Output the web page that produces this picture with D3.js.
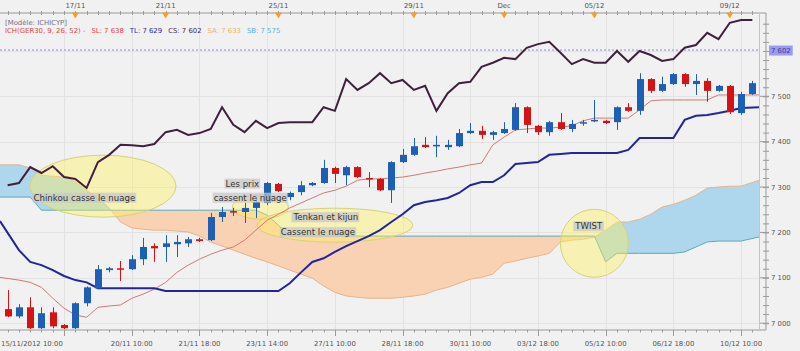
<!DOCTYPE html>
<html>
<head>
<meta charset="utf-8">
<script src="https://cdn.jsdelivr.net/npm/d3@7"></script>
<style>
body { margin: 0; background: #f1f1f1; }
svg text { font-family: "DejaVu Sans", Verdana, sans-serif; }
</style>
</head>
<body>
<div id="chart"></div>
<script>
// candles (DAX 4h)
var open  = [7031,7015,7035,6989,7024,6996,6989,7044,7077,7117,7121,7119,7141,7170,7168,7174,7176,7185,7183,7234,7247,7245,7254,7265,7307,7278,7289,7304,7309,7342,7326,7344,7320,7318,7293,7355,7371,7393,7390,7388,7390,7419,7424,7415,7419,7426,7476,7435,7421,7443,7428,7441,7446,7446,7443,7476,7468,7538,7512,7527,7549,7527,7534,7512,7523,7463,7505];
var high  = [7073,7042,7057,7035,7035,6998,7046,7081,7128,7124,7137,7150,7188,7176,7194,7194,7190,7188,7243,7256,7254,7265,7276,7311,7309,7290,7313,7311,7360,7345,7347,7346,7333,7320,7357,7384,7408,7410,7413,7404,7428,7441,7435,7424,7443,7485,7478,7437,7446,7463,7448,7448,7492,7448,7478,7485,7551,7540,7543,7551,7551,7549,7540,7525,7525,7510,7534];
var low   = [7013,7011,6987,6987,6989,6987,6987,7037,7075,7112,7093,7117,7128,7135,7135,7146,7168,7179,7181,7223,7236,7221,7232,7260,7289,7271,7282,7302,7307,7309,7304,7320,7300,7291,7265,7353,7369,7386,7366,7382,7388,7417,7406,7404,7417,7424,7419,7415,7413,7426,7421,7435,7443,7439,7426,7466,7459,7507,7510,7525,7521,7503,7488,7510,7461,7459,7503];
var close = [7015,7035,6989,7022,6993,6989,7044,7079,7119,7121,7119,7141,7168,7165,7176,7179,7185,7181,7234,7245,7245,7254,7267,7309,7291,7287,7304,7309,7342,7329,7344,7322,7318,7293,7355,7371,7390,7388,7393,7393,7419,7424,7415,7421,7428,7476,7437,7421,7443,7428,7439,7443,7448,7441,7476,7468,7538,7512,7527,7549,7527,7534,7512,7523,7465,7505,7529];

// ichimoku lines
var tenkan  = [7101,7095,7090,7079,7055,7033,7018,7013,7035,7038,7040,7055,7064,7075,7090,7112,7128,7141,7152,7161,7168,7183,7205,7227,7240,7254,7265,7276,7287,7293,7302,7315,7318,7318,7320,7322,7326,7331,7335,7340,7344,7349,7353,7393,7410,7426,7428,7430,7430,7432,7435,7446,7452,7452,7452,7452,7470,7490,7492,7492,7492,7492,7492,7503,7503,7503,7503];
var kijun   = [7225,7161,7135,7128,7117,7104,7095,7090,7077,7077,7077,7077,7077,7077,7071,7071,7071,7071,7071,7071,7071,7071,7071,7071,7071,7088,7112,7135,7143,7157,7170,7181,7192,7205,7223,7240,7260,7267,7271,7276,7287,7304,7311,7311,7326,7351,7353,7355,7371,7373,7375,7375,7375,7375,7375,7382,7408,7408,7408,7408,7448,7457,7459,7463,7468,7474,7476];
var chikou  = [7304,7309,7344,7331,7346,7322,7318,7298,7355,7371,7393,7392,7390,7395,7421,7426,7415,7419,7428,7476,7437,7421,7446,7430,7441,7443,7443,7443,7476,7468,7538,7514,7529,7551,7529,7536,7514,7523,7468,7507,7529,7532,7565,7574,7585,7582,7607,7615,7620,7596,7571,7582,7574,7574,7600,7576,7600,7591,7578,7582,7607,7613,7640,7626,7662,7668,7668];
var senkouA = [7349,7349,7342,7326,7324,7322,7311,7293,7276,7254,7223,7210,7207,7205,7205,7203,7201,7192,7179,7170,7161,7152,7143,7135,7126,7117,7108,7099,7082,7068,7060,7057,7055,7055,7055,7057,7060,7064,7073,7079,7088,7097,7101,7108,7132,7137,7143,7148,7154,7179,7183,7185,7190,7205,7223,7223,7229,7240,7256,7262,7271,7282,7298,7300,7302,7302,7315];
var senkouB = [7278,7278,7278,7249,7249,7249,7249,7249,7249,7249,7249,7249,7249,7249,7249,7249,7249,7249,7249,7249,7249,7249,7249,7238,7216,7192,7192,7192,7192,7192,7192,7192,7192,7192,7192,7192,7192,7192,7192,7192,7192,7192,7192,7192,7192,7192,7192,7192,7192,7192,7192,7192,7192,7135,7154,7154,7154,7154,7154,7154,7157,7168,7179,7181,7181,7181,7190];

// axis labels
var bottomTickIndex  = [0, 11, 17, 23, 29, 35, 41, 47, 53, 59, 65];
var bottomTickLabels = ["15/11/2012 10:00", "20/11 10:00", "21/11 18:00", "23/11 14:00", "27/11 10:00", "28/11 18:00", "30/11 10:00", "03/12 18:00", "05/12 10:00", "06/12 18:00", "10/12 10:00"];
var topTickIndex  = [6, 14, 24, 36, 44, 52, 64];
var topTickLabels = ["17/11", "21/11", "25/11", "29/11", "Dec", "05/12", "09/12"];
var priceTicks = [7000, 7100, 7200, 7300, 7400, 7500];
var lastChikou = 7602;

var width = 800, height = 351;
var plot = {left: 0, right: 759, top: 16, bottom: 330};
var n = open.length;

var svg = d3.select("#chart").append("svg")
    .attr("width", width)
    .attr("height", height)
    .style("background", "#f1f1f1")

//scale
var x = d3.scaleBand()
    .domain(d3.range(n))
    .range([2, 758])
var cx = function (i) { return x(i) + x.bandwidth() / 2; }
// lines and cloud run to the plot edges
var ex = function (i) {
    if (i === 0) return plot.left;
    if (i === n - 1) return plot.right;
    return cx(i);
}
var y = d3.scaleLinear()
    .domain([6985, 7677])
    .range([plot.bottom, plot.top])

var fmt = function (v) { return d3.format(",")(v).replace(",", " "); }

svg.append("clipPath").attr("id", "plot-clip")
    .append("rect")
    .attr("x", plot.left).attr("y", plot.top)
    .attr("width", plot.right - plot.left).attr("height", plot.bottom - plot.top)

//grid
var grid = svg.append("g").attr("class", "grid")
grid.selectAll(".hgrid").data(priceTicks.concat([7600])).enter().append("line")
    .attr("x1", plot.left).attr("x2", plot.right)
    .attr("y1", function (d) { return Math.round(y(d)) + 0.5; })
    .attr("y2", function (d) { return Math.round(y(d)) + 0.5; })
    .attr("stroke", "#e2e2e2")
grid.selectAll(".vgrid").data([5].concat(bottomTickIndex.slice(1))).enter().append("line")
    .attr("x1", function (d) { return Math.round(cx(d)) + 0.5; })
    .attr("x2", function (d) { return Math.round(cx(d)) + 0.5; })
    .attr("y1", plot.top).attr("y2", plot.bottom)
    .attr("stroke", "#e2e2e2")

var g = svg.append("g").attr("clip-path", "url(#plot-clip)")

//cloud: fill blue where SA is above SB, orange where below
var idx = d3.range(n);
var aboveSB = d3.area().x(ex).y0(plot.top).y1(function (i) { return y(senkouB[i]); })
var belowSB = d3.area().x(ex).y0(function (i) { return y(senkouB[i]); }).y1(plot.bottom)
var cloud = d3.area().x(ex)
    .y0(function (i) { return y(senkouA[i]); })
    .y1(function (i) { return y(senkouB[i]); })

svg.append("clipPath").attr("id", "clip-above").append("path").attr("d", aboveSB(idx))
svg.append("clipPath").attr("id", "clip-below").append("path").attr("d", belowSB(idx))

g.append("path").attr("d", cloud(idx))
    .attr("fill", "#aed6ec").attr("clip-path", "url(#clip-above)")
g.append("path").attr("d", cloud(idx))
    .attr("fill", "#f8d2b2").attr("clip-path", "url(#clip-below)")

var lineOf = function (arr, xf) {
    return d3.line().x(xf).y(function (i) { return y(arr[i]); })(idx);
}
g.append("path").attr("d", lineOf(senkouA, ex))
    .attr("fill", "none").attr("stroke", "#e6b48c").attr("stroke-width", 1)
g.append("path").attr("d", lineOf(senkouB, ex))
    .attr("fill", "none").attr("stroke", "#5aaab8").attr("stroke-width", 1)

// yellow highlight shapes (centre in index / price units)
var marks = [
    {i: 8.45, v: 7302, rx: 73, ry: 31},
    {i: 22.4, v: 7256, rx: 28, ry: 12},
    {i: 29.0, v: 7216, rx: 78, ry: 17},
    {i: 52.0, v: 7176, rx: 34, ry: 34}
];
g.selectAll(".mark").data(marks).enter().append("ellipse")
    .attr("cx", function (d) { return cx(0) + d.i * x.step(); })
    .attr("cy", function (d) { return y(d.v); })
    .attr("rx", function (d) { return d.rx; })
    .attr("ry", function (d) { return d.ry; })
    .attr("fill", "#fff060")
    .attr("fill-opacity", 0.42)
    .attr("stroke", "#d6d27a")
    .attr("stroke-width", 1)

// current chikou level
g.append("line")
    .attr("x1", plot.left).attr("x2", plot.right)
    .attr("y1", y(lastChikou)).attr("y2", y(lastChikou))
    .attr("stroke", "#8c8ce0").attr("stroke-dasharray", "2,2")

// tenkan, kijun, chikou
g.append("path").attr("d", lineOf(tenkan, ex))
    .attr("fill", "none").attr("stroke", "#d27a72").attr("stroke-width", 1)
g.append("path").attr("d", lineOf(kijun, ex))
    .attr("fill", "none").attr("stroke", "#2424a0").attr("stroke-width", 2)
g.append("path").attr("d", lineOf(chikou, cx))
    .attr("fill", "none").attr("stroke", "#40203e").attr("stroke-width", 2)

//candles
var candle = g.selectAll(".candle").data(idx).enter().append("g")
var col = function (i) { return close[i] >= open[i] ? "#1c5fb5" : "#d41414"; }
candle.append("line")
    .attr("x1", function (i) { return Math.round(cx(i)) + 0.5; })
    .attr("x2", function (i) { return Math.round(cx(i)) + 0.5; })
    .attr("y1", function (i) { return y(high[i]); })
    .attr("y2", function (i) { return y(low[i]); })
    .attr("stroke", col)
candle.append("rect")
    .attr("x", function (i) { return Math.round(cx(i)) - 3; })
    .attr("width", 7)
    .attr("y", function (i) { return y(Math.max(open[i], close[i])); })
    .attr("height", function (i) { return Math.max(1.5, Math.abs(y(open[i]) - y(close[i]))); })
    .attr("fill", col)

// annotation labels
var notes = [
    {t: "Chinkou casse le nuage", i: 6.8, v: 7270},
    {t: "Les prix", i: 20.8, v: 7301},
    {t: "cassent le nuage", i: 21.5, v: 7270},
    {t: "Tenkan et kijun", i: 28.2, v: 7227},
    {t: "Cassent le nuage", i: 27.5, v: 7194},
    {t: "TWIST", i: 51.5, v: 7207}
];
notes.forEach(function (d) {
    var lg = svg.append("g")
    var t = lg.append("text")
        .attr("x", cx(0) + d.i * x.step())
        .attr("y", y(d.v))
        .attr("text-anchor", "middle")
        .attr("fill", "#333")
        .style("font-size", "8.6px")
        .text(d.t)
    var bb = t.node().getBBox();
    lg.insert("rect", "text")
        .attr("x", bb.x - 1).attr("y", bb.y)
        .attr("width", bb.width + 2).attr("height", bb.height)
        .attr("fill", "#c8c8c8").attr("fill-opacity", 0.75)
})

//bottom axis
var axisCol = "#9a9a9a";
var bottomAxis = svg.append("g").attr("transform", "translate(0," + plot.bottom + ")")
bottomAxis.append("line").attr("x1", plot.left).attr("x2", plot.right + 7).attr("stroke", axisCol)
bottomAxis.selectAll(".mt").data(idx).enter().append("line")
    .attr("x1", function (i) { return Math.round(cx(i)) + 0.5; })
    .attr("x2", function (i) { return Math.round(cx(i)) + 0.5; })
    .attr("y1", 0)
    .attr("y2", function (i) { return bottomTickIndex.indexOf(i) > 0 || i === 5 ? 6 : 2.5; })
    .attr("stroke", axisCol)
bottomAxis.selectAll(".bl").data(bottomTickIndex).enter().append("text")
    .attr("x", function (d, k) { return k === 0 ? 1 : cx(d); })
    .attr("y", 16)
    .attr("text-anchor", function (d, k) { return k === 0 ? "start" : "middle"; })
    .attr("fill", "#555")
    .style("font-size", "6.9px")
    .text(function (d, k) { return bottomTickLabels[k]; })

//top axis
var topAxis = svg.append("g").attr("transform", "translate(0,13)")
topAxis.append("line").attr("x1", plot.left).attr("x2", plot.right + 7).attr("stroke", axisCol)
topAxis.selectAll(".mt").data(idx).enter().append("line")
    .attr("x1", function (i) { return Math.round(cx(i)) + 0.5; })
    .attr("x2", function (i) { return Math.round(cx(i)) + 0.5; })
    .attr("y1", -2).attr("y2", 2)
    .attr("stroke", axisCol)
topAxis.selectAll(".tl").data(topTickIndex).enter().append("text")
    .attr("x", function (d) { return cx(d); })
    .attr("y", -5)
    .attr("text-anchor", "middle")
    .attr("fill", "#555")
    .style("font-size", "6.9px")
    .text(function (d, k) { return topTickLabels[k]; })
topAxis.selectAll(".tri").data(topTickIndex).enter().append("path")
    .attr("d", d3.symbol().type(d3.symbolTriangle).size(22))
    .attr("transform", function (d) { return "translate(" + cx(d) + ",1.5) rotate(180)"; })
    .attr("fill", "#f0a030")

//right axis
var yAxisCall = d3.axisRight(y)
    .tickValues(d3.range(7000, 7661, 20))
    .tickSize(3)
    .tickFormat("")
var right = svg.append("g").attr("transform", "translate(" + (plot.right + 7) + ",0)")
right.call(yAxisCall)
right.select(".domain").remove()
right.selectAll("line").attr("stroke", axisCol).attr("x1", -3)
right.append("line").attr("y1", plot.top - 3).attr("y2", plot.bottom).attr("stroke", axisCol)
svg.append("line").attr("x1", plot.right + 0.5).attr("x2", plot.right + 0.5)
    .attr("y1", plot.top - 3).attr("y2", plot.bottom).attr("stroke", "#c4c4c4")
right.selectAll(".pl").data(priceTicks).enter().append("text")
    .attr("x", 5)
    .attr("y", function (d) { return y(d) + 2.5; })
    .attr("fill", "#555")
    .style("font-size", "6.9px")
    .text(fmt)
right.selectAll(".maj").data(priceTicks).enter().append("line")
    .attr("x1", -6).attr("x2", 3)
    .attr("y1", function (d) { return y(d); }).attr("y2", function (d) { return y(d); })
    .attr("stroke", axisCol)
var cur = right.append("g")
var curT = cur.append("text")
    .attr("x", 5).attr("y", y(lastChikou) + 2.5)
    .attr("fill", "#3a3aa0")
    .style("font-size", "6.9px")
    .text(fmt(lastChikou))
var cbb = curT.node().getBBox();
cur.insert("rect", "text")
    .attr("x", cbb.x - 2).attr("y", cbb.y - 1)
    .attr("width", cbb.width + 4).attr("height", cbb.height + 2)
    .attr("fill", "#9b9bf0")

//legend
svg.append("text")
    .attr("x", 5).attr("y", 25)
    .attr("fill", "#707090")
    .style("font-size", "6.9px")
    .text("[Modèle: ICHICYP]")
var legendItems = [
    {t: "ICH(GER30, 9, 26, 52) -", c: "#e04848"},
    {t: "SL: 7 638", c: "#e04848"},
    {t: "TL: 7 629", c: "#2c2c9c"},
    {t: "CS: 7 602", c: "#4a2a4a"},
    {t: "SA: 7 633", c: "#f2b070"},
    {t: "SB: 7 575", c: "#58b0e0"}
];
var lx = 5;
legendItems.forEach(function (d) {
    var t = svg.append("text")
        .attr("x", lx).attr("y", 32.5)
        .attr("fill", d.c)
        .style("font-size", "6.9px")
        .text(d.t)
    lx += t.node().getComputedTextLength() + 6;
})
</script>
</body>
</html>
